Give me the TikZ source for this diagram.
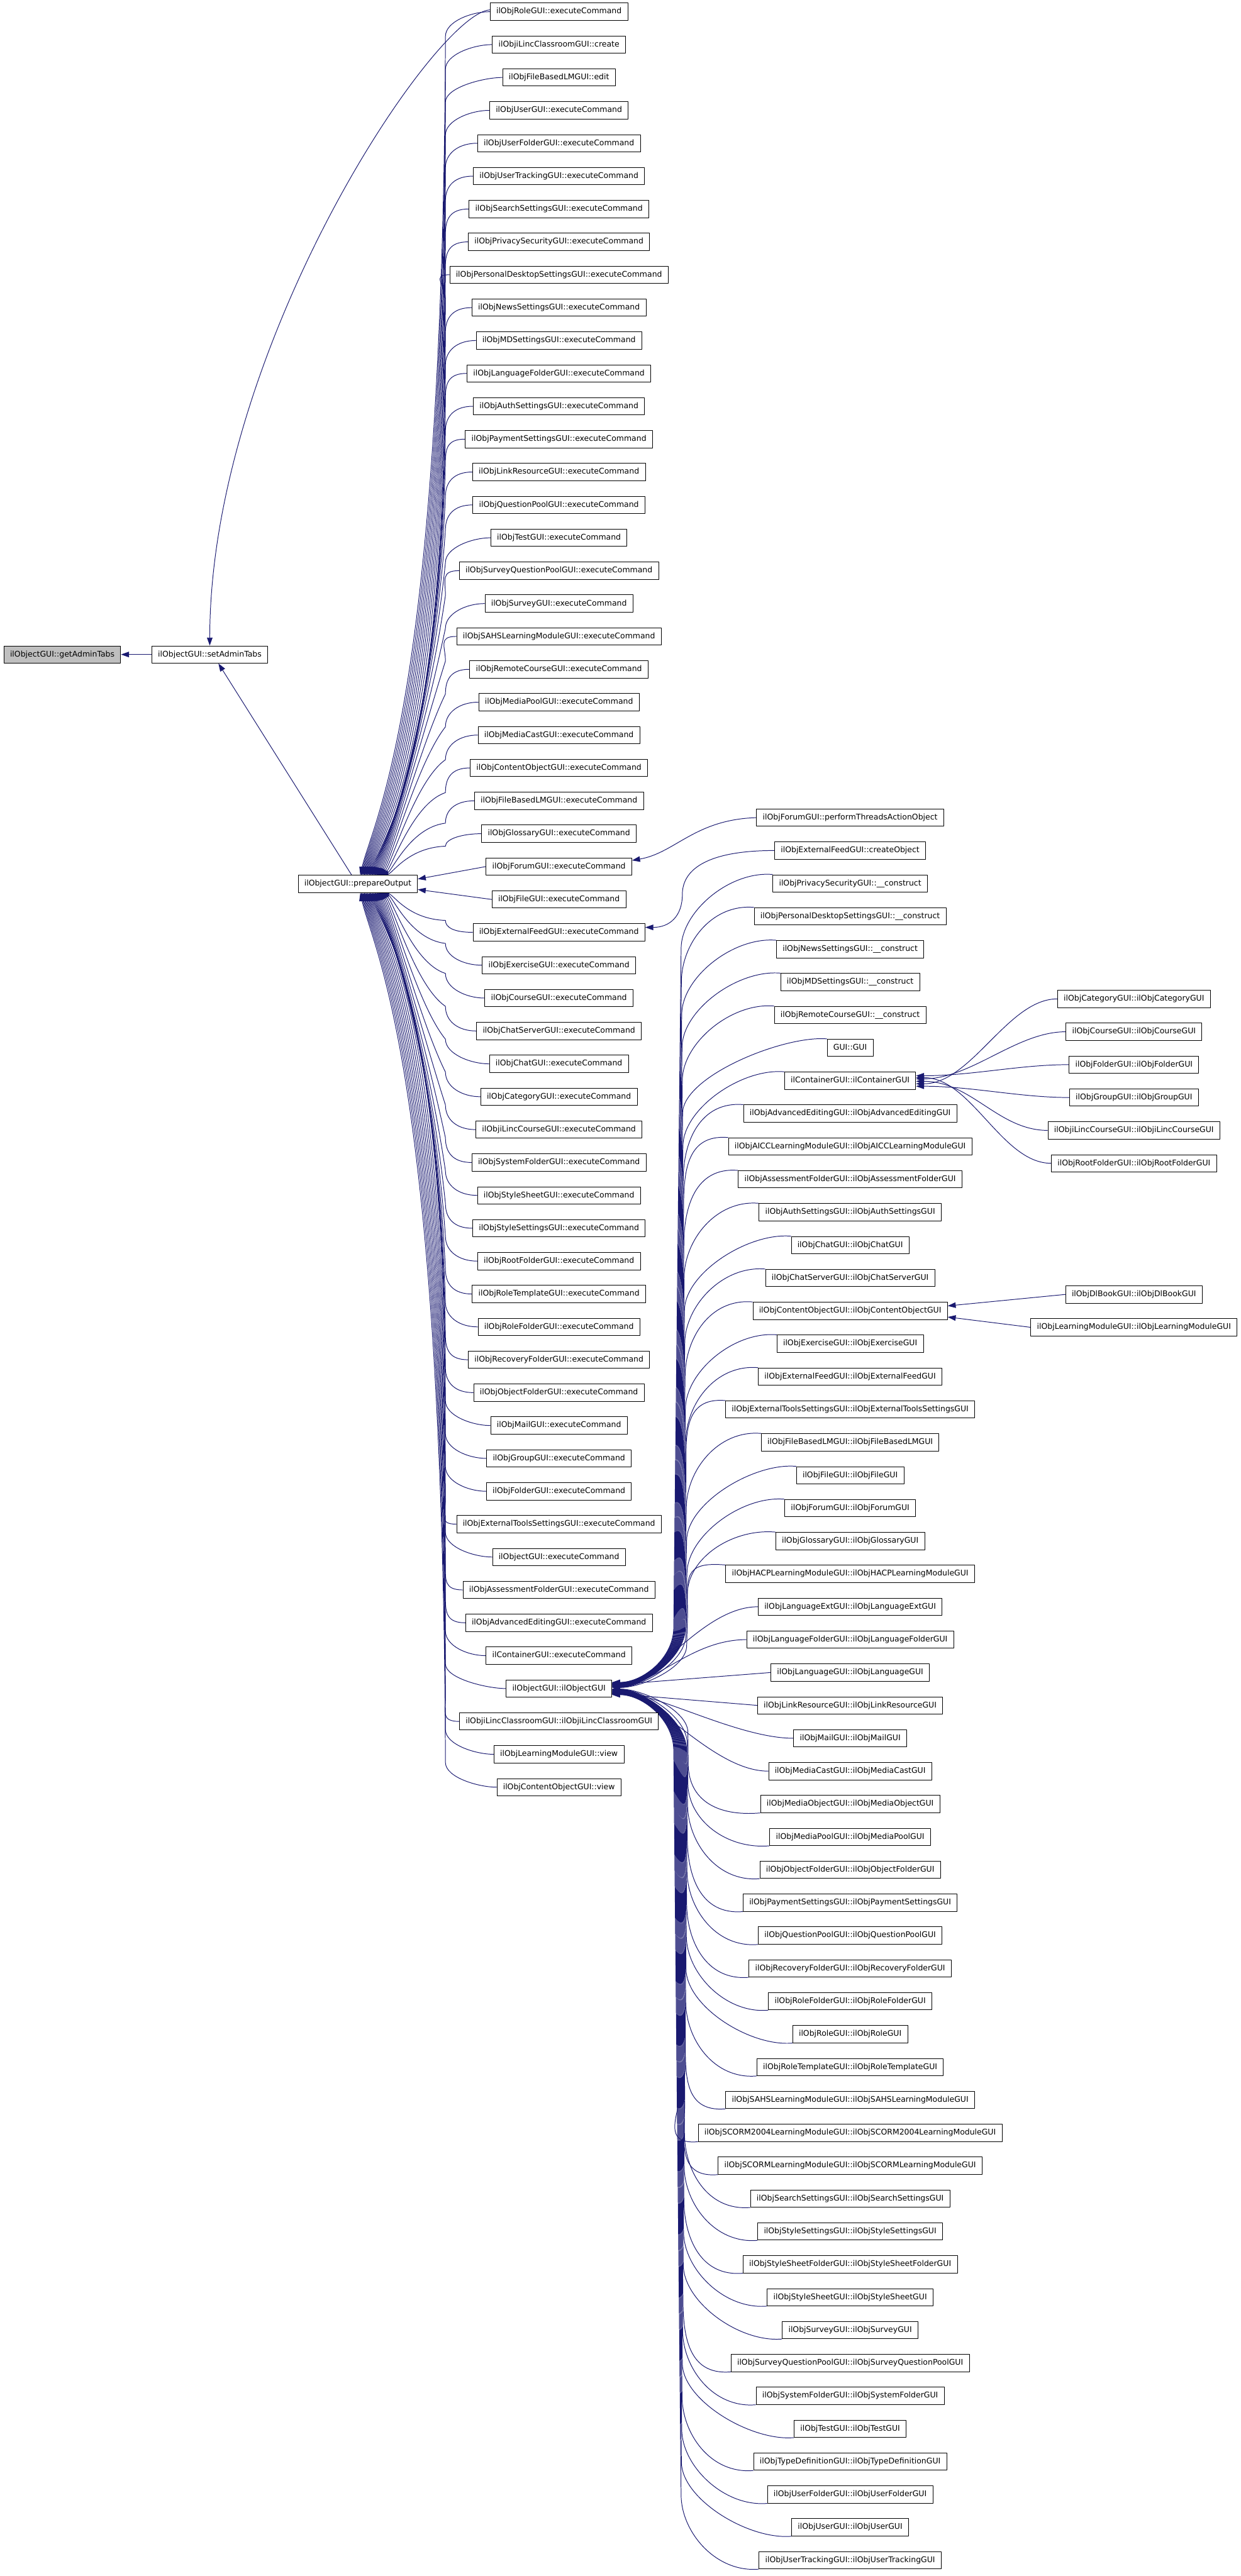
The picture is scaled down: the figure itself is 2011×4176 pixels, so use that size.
\documentclass[tikz,border=0pt]{standalone}
\usepackage{fontspec}
\setmainfont{DejaVu Sans}
\usetikzlibrary{arrows.meta,calc,backgrounds}
\definecolor{navy}{HTML}{191970}
\tikzset{
  fn/.style={draw=black,line width=0.9pt,fill=white,inner xsep=10pt,inner ysep=2pt,
    minimum height=28pt,text height=9.6pt,text depth=2.8pt,font=\fontsize{12.7}{15}\selectfont},
  root/.style={fn,fill=black!25},
  call/.style={draw=navy,line width=1pt,-{Triangle[length=13pt,width=9pt]}}
}
\begin{document}
\begin{tikzpicture}[x=1pt,y=-1pt,line cap=round,line join=round]
  \useasboundingbox (0,0) rectangle (2011,4176);
  \node[root] (gat) at (101,1061) {ilObjectGUI::getAdminTabs};
  \node[fn] (sa) at (340,1061) {ilObjectGUI::setAdminTabs};
  \node[fn] (prep) at (580,1433) {ilObjectGUI::prepareOutput};
  % callers of prepareOutput
  \foreach \t [count=\i] in {ilObjRoleGUI::executeCommand,ilObjiLincClassroomGUI::create,
    ilObjFileBasedLMGUI::edit,ilObjUserGUI::executeCommand,ilObjUserFolderGUI::executeCommand,
    ilObjUserTrackingGUI::executeCommand,ilObjSearchSettingsGUI::executeCommand,
    ilObjPrivacySecurityGUI::executeCommand,ilObjPersonalDesktopSettingsGUI::executeCommand,
    ilObjNewsSettingsGUI::executeCommand,ilObjMDSettingsGUI::executeCommand,
    ilObjLanguageFolderGUI::executeCommand,ilObjAuthSettingsGUI::executeCommand,
    ilObjPaymentSettingsGUI::executeCommand,ilObjLinkResourceGUI::executeCommand,
    ilObjQuestionPoolGUI::executeCommand,ilObjTestGUI::executeCommand,
    ilObjSurveyQuestionPoolGUI::executeCommand,ilObjSurveyGUI::executeCommand,
    ilObjSAHSLearningModuleGUI::executeCommand,ilObjRemoteCourseGUI::executeCommand,
    ilObjMediaPoolGUI::executeCommand,ilObjMediaCastGUI::executeCommand,
    ilObjContentObjectGUI::executeCommand,ilObjFileBasedLMGUI::executeCommand,
    ilObjGlossaryGUI::executeCommand,ilObjForumGUI::executeCommand,ilObjFileGUI::executeCommand,
    ilObjExternalFeedGUI::executeCommand,ilObjExerciseGUI::executeCommand,
    ilObjCourseGUI::executeCommand,ilObjChatServerGUI::executeCommand,ilObjChatGUI::executeCommand,
    ilObjCategoryGUI::executeCommand,ilObjiLincCourseGUI::executeCommand,
    ilObjSystemFolderGUI::executeCommand,ilObjStyleSheetGUI::executeCommand,
    ilObjStyleSettingsGUI::executeCommand,ilObjRootFolderGUI::executeCommand,
    ilObjRoleTemplateGUI::executeCommand,ilObjRoleFolderGUI::executeCommand,
    ilObjRecoveryFolderGUI::executeCommand,ilObjObjectFolderGUI::executeCommand,
    ilObjMailGUI::executeCommand,ilObjGroupGUI::executeCommand,ilObjFolderGUI::executeCommand,
    ilObjExternalToolsSettingsGUI::executeCommand,ilObjectGUI::executeCommand,
    ilObjAssessmentFolderGUI::executeCommand,ilObjAdvancedEditingGUI::executeCommand,
    ilContainerGUI::executeCommand,ilObjectGUI::ilObjectGUI,
    ilObjiLincClassroomGUI::ilObjiLincClassroomGUI,ilObjLearningModuleGUI::view,
    ilObjContentObjectGUI::view}
    \node[fn] (cr\i) at (906,{19+(\i-1)*53.3}) {\t};
  % callers of the ilObjectGUI constructor
  \foreach \t [count=\i] in {ilObjForumGUI::performThreadsActionObject,
    ilObjExternalFeedGUI::createObject,ilObjPrivacySecurityGUI::\_\_construct,
    ilObjPersonalDesktopSettingsGUI::\_\_construct,ilObjNewsSettingsGUI::\_\_construct,
    ilObjMDSettingsGUI::\_\_construct,ilObjRemoteCourseGUI::\_\_construct,GUI::GUI,
    ilContainerGUI::ilContainerGUI,ilObjAdvancedEditingGUI::ilObjAdvancedEditingGUI,
    ilObjAICCLearningModuleGUI::ilObjAICCLearningModuleGUI,
    ilObjAssessmentFolderGUI::ilObjAssessmentFolderGUI,ilObjAuthSettingsGUI::ilObjAuthSettingsGUI,
    ilObjChatGUI::ilObjChatGUI,ilObjChatServerGUI::ilObjChatServerGUI,
    ilObjContentObjectGUI::ilObjContentObjectGUI,ilObjExerciseGUI::ilObjExerciseGUI,
    ilObjExternalFeedGUI::ilObjExternalFeedGUI,
    ilObjExternalToolsSettingsGUI::ilObjExternalToolsSettingsGUI,
    ilObjFileBasedLMGUI::ilObjFileBasedLMGUI,ilObjFileGUI::ilObjFileGUI,
    ilObjForumGUI::ilObjForumGUI,ilObjGlossaryGUI::ilObjGlossaryGUI,
    ilObjHACPLearningModuleGUI::ilObjHACPLearningModuleGUI,ilObjLanguageExtGUI::ilObjLanguageExtGUI,
    ilObjLanguageFolderGUI::ilObjLanguageFolderGUI,ilObjLanguageGUI::ilObjLanguageGUI,
    ilObjLinkResourceGUI::ilObjLinkResourceGUI,ilObjMailGUI::ilObjMailGUI,
    ilObjMediaCastGUI::ilObjMediaCastGUI,ilObjMediaObjectGUI::ilObjMediaObjectGUI,
    ilObjMediaPoolGUI::ilObjMediaPoolGUI,ilObjObjectFolderGUI::ilObjObjectFolderGUI,
    ilObjPaymentSettingsGUI::ilObjPaymentSettingsGUI,ilObjQuestionPoolGUI::ilObjQuestionPoolGUI,
    ilObjRecoveryFolderGUI::ilObjRecoveryFolderGUI,ilObjRoleFolderGUI::ilObjRoleFolderGUI,
    ilObjRoleGUI::ilObjRoleGUI,ilObjRoleTemplateGUI::ilObjRoleTemplateGUI,
    ilObjSAHSLearningModuleGUI::ilObjSAHSLearningModuleGUI,
    ilObjSCORM2004LearningModuleGUI::ilObjSCORM2004LearningModuleGUI,
    ilObjSCORMLearningModuleGUI::ilObjSCORMLearningModuleGUI,
    ilObjSearchSettingsGUI::ilObjSearchSettingsGUI,ilObjStyleSettingsGUI::ilObjStyleSettingsGUI,
    ilObjStyleSheetFolderGUI::ilObjStyleSheetFolderGUI,ilObjStyleSheetGUI::ilObjStyleSheetGUI,
    ilObjSurveyGUI::ilObjSurveyGUI,ilObjSurveyQuestionPoolGUI::ilObjSurveyQuestionPoolGUI,
    ilObjSystemFolderGUI::ilObjSystemFolderGUI,ilObjTestGUI::ilObjTestGUI,
    ilObjTypeDefinitionGUI::ilObjTypeDefinitionGUI,ilObjUserFolderGUI::ilObjUserFolderGUI,
    ilObjUserGUI::ilObjUserGUI,ilObjUserTrackingGUI::ilObjUserTrackingGUI}
    \node[fn] (oc\i) at (1378,{1325.5+(\i-1)*53.3}) {\t};
  \foreach \t [count=\i] in {ilObjCategoryGUI::ilObjCategoryGUI,ilObjCourseGUI::ilObjCourseGUI,
    ilObjFolderGUI::ilObjFolderGUI,ilObjGroupGUI::ilObjGroupGUI,
    ilObjiLincCourseGUI::ilObjiLincCourseGUI,ilObjRootFolderGUI::ilObjRootFolderGUI}
    \node[fn] (cc\i) at (1838,{1619.3+(\i-1)*53.3}) {\t};
  \node[fn] (co1) at (1838,2098.4) {ilObjDlBookGUI::ilObjDlBookGUI};
  \node[fn] (co2) at (1838,2151.7) {ilObjLearningModuleGUI::ilObjLearningModuleGUI};

  \begin{scope}[on background layer]
  \draw[call] (sa.west) -- (gat.east);
  \draw[call] ($(prep.north)+(-10,0)$) -- ($(sa.south)+(14,0)$);
  \draw[call] ($(cr1.west)+(0,-3)$) .. controls +(-90,6) and +(0,-480) .. (sa.north);
  \foreach \i in {1,...,26} {
    \pgfmathsetmacro\ya{19+(\i-1)*53.3}
    \pgfmathsetmacro\hh{min(40,0.3*(1419-\ya))}
    \pgfmathsetmacro\yk{\ya+\hh}
    \pgfmathsetmacro\dd{1419-\yk}
    \pgfmathsetmacro\kk{min(0.8,\dd/1000)}
    \pgfmathsetmacro\px{718-60*(1-\kk/0.8)}
    \pgfmathsetmacro\ca{\yk+\kk*\dd}
    \pgfmathsetmacro\xt{4+(\i-1)*1.3}
    \pgfmathsetmacro\cx{600+\xt}
    \pgfmathsetmacro\cb{1419-0.065*\dd}
    \draw[call] (cr\i.west) .. controls +(-30,0) and (722,\ya+0.4*\hh) .. (722,\yk)
      .. controls (\px,\ca) and (\cx,\cb) .. ($(prep.north)+(\xt,0)$);
  }
  \draw[call] (cr27.west) -- ($(prep.east)+(0,-8)$);
  \draw[call] (cr28.west) -- ($(prep.east)+(0,9)$);
  \foreach \i in {29,...,55} {
    \pgfmathsetmacro\ya{19+(\i-1)*53.3}
    \pgfmathsetmacro\hh{min(40,0.3*(\ya-1447))}
    \pgfmathsetmacro\yk{\ya-\hh}
    \pgfmathsetmacro\dd{\yk-1447}
    \pgfmathsetmacro\kk{min(0.8,\dd/1000)}
    \pgfmathsetmacro\px{718-60*(1-\kk/0.8)}
    \pgfmathsetmacro\ca{\yk-\kk*\dd}
    \pgfmathsetmacro\xt{4+(55-\i)*1.3}
    \pgfmathsetmacro\cx{600+\xt}
    \pgfmathsetmacro\cb{1447+0.065*\dd}
    \draw[call] (cr\i.west) .. controls +(-30,0) and (722,\ya-0.4*\hh) .. (722,\yk)
      .. controls (\px,\ca) and (\cx,\cb) .. ($(prep.south)+(\xt,0)$);
  }
  \draw[call] (oc1.west) .. controls +(-100,3) and +(70,-12) .. ($(cr27.east)+(0,-10)$);
  \draw[call] (oc2.west) .. controls +(-110,0) and +(0,-40) .. (1106,1450)
    .. controls +(0,35) and +(40,0) .. ($(cr29.east)+(0,-8)$);
  \foreach \j in {3,...,24} {
    \pgfmathsetmacro\ya{1311.5+(\j-1)*53.3}
    \pgfmathsetmacro\hh{min(120,0.4*(2738-\ya))}
    \pgfmathsetmacro\mm{min(100,0.35*(2738-\ya))}
    \pgfmathsetmacro\xk{1104+(\j-3)*0.5}
    \pgfmathsetmacro\xq{1092+(\j-3)*1.0}
    \pgfmathsetmacro\ye{-10+(\j-3)*0.4}
    \draw[call] (oc\j.north west) .. controls +(-70,-6) and +(0,-60) .. (\xk,\ya+\hh)
      -- (\xq,2738-\mm) .. controls +(0,0.5*\mm) and +(50,0) .. ($(cr52.east)+(0,\ye)$);
  }
  \draw[call] (oc25.west) .. controls +(-90,0) and +(70,0) .. ($(cr52.east)+(0,-7)$);
  \draw[call] (oc26.west) .. controls +(-90,0) and +(70,0) .. ($(cr52.east)+(0,-5)$);
  \draw[call] (oc27.west) -- ($(cr52.east)+(0,-6)$);
  \draw[call] (oc28.west) -- ($(cr52.east)+(0,8)$);
  \draw[call] (oc29.west) .. controls +(-90,0) and +(70,0) .. ($(cr52.east)+(0,6)$);
  \draw[call] (oc30.west) .. controls +(-90,0) and +(70,0) .. ($(cr52.east)+(0,8)$);
  \foreach \j in {31,...,54} {
    \pgfmathsetmacro\ya{1339.5+(\j-1)*53.3}
    \pgfmathsetmacro\hh{min(120,0.4*(\ya-2738))}
    \pgfmathsetmacro\mm{min(100,0.35*(\ya-2738))}
    \pgfmathsetmacro\xk{1104+(54-\j)*0.5}
    \pgfmathsetmacro\xq{1092+(54-\j)*1.0}
    \pgfmathsetmacro\ye{10-(54-\j)*0.4}
    \draw[call] (oc\j.south west) .. controls +(-70,6) and +(0,60) .. (\xk,\ya-\hh)
      -- (\xq,2738+\mm) .. controls +(0,-0.5*\mm) and +(50,0) .. ($(cr52.east)+(0,\ye)$);
  }
  \foreach \k/\o in {1/5,2/-3,3/-8,4/9,5/1,6/-5}
    \draw[call] (cc\k.west) .. controls +(-80,0) and +(90,0) .. ($(oc9.east)+(0,\o)$);
  \draw[call] (co1.west) -- ($(oc16.east)+(0,-8)$);
  \draw[call] (co2.west) -- ($(oc16.east)+(0,10)$);
  \end{scope}
\end{tikzpicture}
\end{document}
